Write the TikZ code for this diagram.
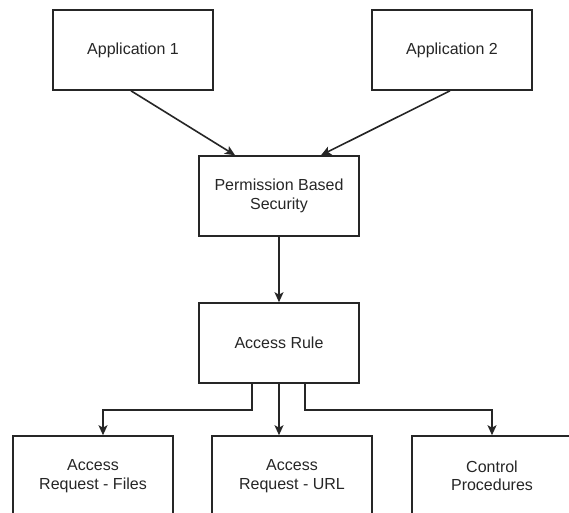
\documentclass[tikz,border=0pt]{standalone}
\usepackage{fontspec}
\setmainfont{Liberation Sans}
\usetikzlibrary{arrows.meta}
\begin{document}
\begin{tikzpicture}[x=1pt,y=-1pt,
  box/.style={draw=black!85, line width=1.6pt, rectangle, minimum width=160pt, minimum height=80pt, align=center, inner sep=0pt, font=\fontsize{16}{18.5}\selectfont, text=black!85},
  conn/.style={draw=black!85, line width=1.6pt, -{Stealth[length=10pt,width=9pt,inset=2.5pt]}}]
\useasboundingbox[fill=white] (0,0) rectangle (569,512);
\node[box] (app1) at (133,50) {Application 1};
\node[box] (app2) at (452,50) {Application 2};
\node[box] (pbs) at (279,196) {Permission Based\\Security};
\node[box] (ar) at (279,343) {Access Rule};
\node[box] (bl) at (93,476) {Access\\Request - Files};
\node[box] (bm) at (292,476) {Access\\Request - URL};
\node[box] (br) at (492,476) {Control\\Procedures};
\draw[conn] ([xshift=-2pt]app1.south) -- ([xshift=-44pt]pbs.north);
\draw[conn] ([xshift=-2pt]app2.south) -- ([xshift=42pt]pbs.north);
\draw[conn] (pbs.south) -- (ar.north);
\draw[conn] ([xshift=-27pt]ar.south) -- ++(0,26) -| ([xshift=10pt]bl.north);
\draw[conn] (ar.south) -- (ar.south |- bm.north);
\draw[conn] ([xshift=26pt]ar.south) -- ++(0,26) -| (br.north);
\end{tikzpicture}
\end{document}
